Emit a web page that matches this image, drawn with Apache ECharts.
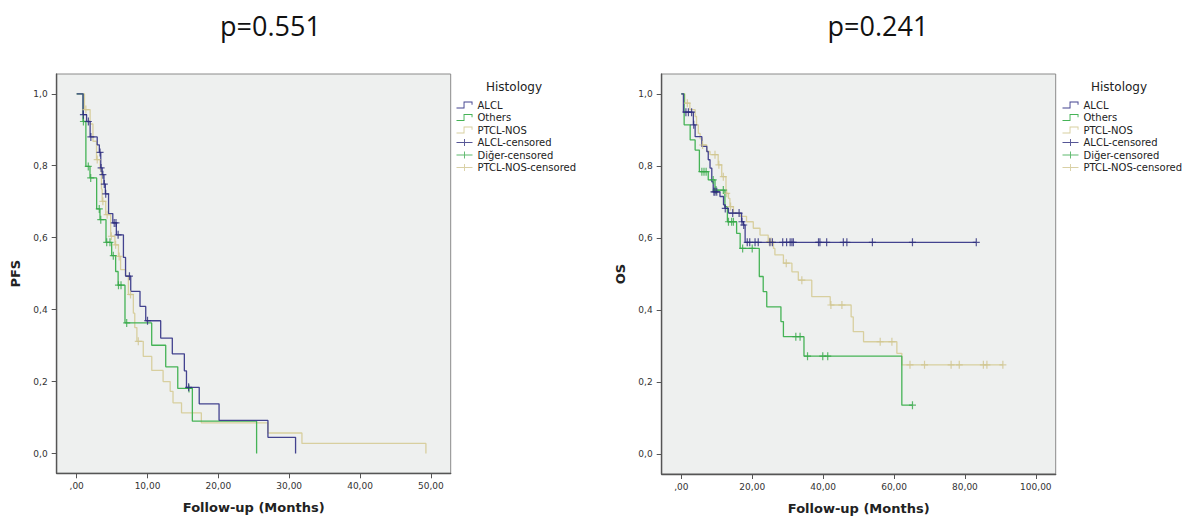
<!DOCTYPE html>
<html>
<head>
<meta charset="utf-8">
<script src="https://cdn.jsdelivr.net/npm/echarts@6/dist/echarts.min.js"></script>
<style>
html,body{margin:0;padding:0;background:#fff;}
#chart{width:1188px;height:520px;}
</style>
</head>
<body>
<div id="chart"></div>
<script>
// ---------- DATA ----------
const groupNames = ['ALCL', 'Others', 'PTCL-NOS'];
const censorNames = ['ALCL-censored', 'Diğer-censored', 'PTCL-NOS-censored'];
const titles = ['p=0.551', 'p=0.241'];
const yTicks = [0, 0.2, 0.4, 0.6, 0.8, 1.0];
const xTicksPFS = [0, 10, 20, 30, 40, 50];
const xTicksOS = [0, 20, 40, 60, 80, 100];

// PFS – ALCL
const pfsAlclT = [0.9, 1.4, 1.9, 2.9, 3.2, 3.4, 3.6, 3.85, 4.05, 4.5, 5.1, 5.6, 6.6, 6.9, 7.63, 8.94, 9.75, 11.86, 13.5, 15.2, 15.5, 17.3, 20.1, 27.0, 30.9];
const pfsAlclS = [0.942, 0.923, 0.88, 0.858, 0.837, 0.794, 0.775, 0.749, 0.722, 0.667, 0.641, 0.608, 0.545, 0.493, 0.451, 0.409, 0.369, 0.321, 0.277, 0.23, 0.184, 0.138, 0.092, 0.045, 0];
const pfsAlclC = [0.95, 1.65, 2.0, 3.3, 3.45, 3.7, 3.9, 4.1, 5.3, 5.55, 5.85, 7.45, 10.0, 15.8];
// PFS – Others
const pfsOthT = [0.9, 1.3, 1.88, 2.82, 3.29, 4.14, 4.94, 5.5, 5.85, 6.82, 10.59, 12.57, 14.27, 16.33, 25.4];
const pfsOthS = [0.923, 0.798, 0.766, 0.68, 0.65, 0.587, 0.55, 0.506, 0.468, 0.363, 0.301, 0.241, 0.181, 0.09, 0];
const pfsOthC = [0.95, 1.64, 1.98, 3.19, 3.4, 4.24, 4.7, 5.17, 5.9, 6.26, 7.06, 15.86];
// PFS – PTCL-NOS
const pfsPtclT = [1.1, 1.9, 2.3, 2.8, 3.3, 3.5, 3.6, 4.1, 4.8, 5.4, 5.9, 6.2, 6.9, 7.3, 8.0, 8.2, 8.5, 9.4, 10.6, 12.2, 13.2, 13.6, 14.8, 17.6, 27.0, 31.8, 49.3];
const pfsPtclS = [0.956, 0.916, 0.868, 0.817, 0.789, 0.735, 0.701, 0.664, 0.604, 0.58, 0.548, 0.511, 0.493, 0.442, 0.39, 0.35, 0.312, 0.27, 0.231, 0.2, 0.173, 0.141, 0.113, 0.085, 0.057, 0.028, 0];
const pfsPtclC = [1.3, 2.9, 3.7, 4.3, 4.9, 5.5, 6.0, 7.6, 8.7];

// OS – ALCL
const osAlclT = [0.6, 3.4, 3.9, 5.8, 7.2, 7.6, 8.1, 8.6, 9.0, 10.9, 11.9, 12.3, 13.3, 17.0, 17.5, 18.0];
const osAlclS = [0.949, 0.914, 0.881, 0.854, 0.84, 0.817, 0.794, 0.756, 0.728, 0.715, 0.692, 0.682, 0.669, 0.645, 0.636, 0.588];
const osAlclC = [1.3, 2.0, 2.9, 3.5, 9.2, 9.5, 10.0, 12.4, 14.5, 16.3, 17.1, 17.6, 18.6, 19.3, 20.8, 21.7, 25.0, 25.7, 28.6, 29.7, 30.7, 31.2, 31.6, 38.7, 39.1, 41.0, 45.7, 46.7, 53.9, 65.2, 83.2];
// OS – Others
const osOthT = [0.8, 2.5, 3.9, 5.1, 7.6, 9.5, 12.3, 13.0, 15.6, 16.6, 22.0, 23.1, 24.1, 28.1, 28.8, 34.6, 62.2];
const osOthS = [0.914, 0.872, 0.844, 0.784, 0.761, 0.733, 0.687, 0.645, 0.613, 0.571, 0.493, 0.451, 0.409, 0.368, 0.326, 0.272, 0.136];
const osOthC = [5.8, 6.4, 7.0, 9.0, 9.8, 11.85, 13.3, 14.2, 14.7, 17.3, 20.0, 32.3, 33.5, 35.6, 39.9, 41.3, 65.2];
// OS – PTCL-NOS
const osPtclT = [1.0, 2.4, 3.9, 4.3, 4.8, 5.3, 5.8, 7.2, 8.1, 10.4, 11.4, 12.6, 13.3, 13.7, 14.7, 16.6, 18.4, 20.3, 22.2, 24.5, 26.0, 26.4, 28.8, 31.2, 33.0, 36.8, 42.0, 47.9, 48.5, 51.4, 60.8, 62.2];
const osPtclS = [0.974, 0.956, 0.937, 0.914, 0.89, 0.875, 0.858, 0.84, 0.831, 0.803, 0.77, 0.724, 0.71, 0.687, 0.669, 0.66, 0.645, 0.627, 0.608, 0.59, 0.571, 0.553, 0.53, 0.506, 0.483, 0.437, 0.414, 0.381, 0.34, 0.312, 0.28, 0.248];
const osPtclC = [1.7, 6.0, 9.5, 10.6, 11.85, 12.8, 13.9, 24.8, 25.3, 29.6, 34.0, 42.2, 45.3, 56.1, 59.4, 64.5, 68.6, 76.1, 78.4, 85.2, 86.2, 90.7];

// ---------- STYLE ----------
const lineColors = ['#43438f', '#45b356', '#d8cf9f'];
const censColors = ['#2c2c7c', '#36a848', '#cfc48f'];
const FONT = '"DejaVu Sans", sans-serif';
const stepIcon = 'path://M0,5.5L7.5,5.5L7.5,0L17,0L17,3L16,3L16,1L8.5,1L8.5,6.5L0,6.5Z';
const plusIcon = 'path://M0,3L17,3L17,4L0,4ZM8,0L9,0L9,7L8,7Z';
const plusMark = 'path://M0,3.4L7,3.4L7,4.6L0,4.6ZM2.9,0L4.1,0L4.1,8L2.9,8Z';

function stepData(T, S, C) {
  const d = [[0, 1]];
  T.forEach((t, i) => d.push([t, S[i]]));
  const lastT = T[T.length - 1];
  const maxC = Math.max.apply(null, C);
  if (maxC > lastT) d.push([maxC, S[S.length - 1]]);
  return d;
}
function censorData(T, S, C) {
  return C.map(c => {
    let s = 1;
    T.forEach((t, i) => { if (t <= c) s = S[i]; });
    return [c, s];
  });
}
const fmtX = v => (v === 0 ? ',00' : v.toFixed(2).replace('.', ','));
const fmtY = v => v.toFixed(1).replace('.', ',');

const panels = [
  { T: [pfsAlclT, pfsOthT, pfsPtclT], S: [pfsAlclS, pfsOthS, pfsPtclS], C: [pfsAlclC, pfsOthC, pfsPtclC] },
  { T: [osAlclT, osOthT, osPtclT], S: [osAlclS, osOthS, osPtclS], C: [osAlclC, osOthC, osPtclC] }
];

const series = [];
panels.forEach((p, pi) => {
  [2, 1, 0].forEach(g => {
    series.push({
      name: groupNames[g], type: 'line', step: 'end', xAxisIndex: pi, yAxisIndex: pi,
      data: stepData(p.T[g], p.S[g], p.C[g]),
      symbol: 'none', showSymbol: false, animation: false, silent: true,
      lineStyle: { color: lineColors[g], width: 1.3 },
      itemStyle: { color: lineColors[g] }, z: 2 + (2 - g)
    });
  });
  [2, 1, 0].forEach(g => {
    series.push({
      name: censorNames[g], type: 'scatter', xAxisIndex: pi, yAxisIndex: pi,
      data: censorData(p.T[g], p.S[g], p.C[g]),
      symbol: plusMark, symbolSize: [7, 8], animation: false, silent: true,
      itemStyle: { color: censColors[g], borderWidth: 0 }, z: 6
    });
  });
});

const grids = [
  { left: 56.7, top: 74, width: 394, height: 399.3 },
  { left: 661.7, top: 74, width: 394, height: 400 }
];
const xRanges = [[-2.82, 52.8], [-5.53, 105.6]];
const xTicks = [xTicksPFS, xTicksOS];
const yNames = ['PFS', 'OS'];

const legendData = [
  { name: groupNames[0], icon: stepIcon }, { name: groupNames[1], icon: stepIcon }, { name: groupNames[2], icon: stepIcon },
  { name: censorNames[0], icon: plusIcon }, { name: censorNames[1], icon: plusIcon }, { name: censorNames[2], icon: plusIcon }
];
const legendLeft = [451.5, 1057.5];
const histX = [514, 1119];
const titleX = [270.5, 878];

const option = {
  backgroundColor: '#ffffff',
  animation: false,
  grid: grids.map(g => Object.assign({ show: true, backgroundColor: '#eef0ef', borderColor: '#8a8a8a', borderWidth: 1 }, g)),
  xAxis: [0, 1].map(i => ({
    type: 'value', gridIndex: i, min: xRanges[i][0], max: xRanges[i][1],
    name: 'Follow-up (Months)', nameLocation: 'middle', nameGap: 28,
    nameTextStyle: { fontFamily: FONT, fontSize: 13, fontWeight: 'bold', color: '#222' },
    axisLine: { show: true, onZero: false, lineStyle: { color: '#555', width: 1.4 } },
    axisTick: { show: true, length: 5, customValues: xTicks[i], lineStyle: { color: '#555' } },
    axisLabel: { customValues: xTicks[i], formatter: fmtX, fontFamily: FONT, fontSize: 9, color: '#333', margin: 8 },
    splitLine: { show: false }
  })),
  yAxis: [0, 1].map(i => ({
    type: 'value', gridIndex: i, min: -0.055, max: 1.055,
    name: yNames[i], nameLocation: 'middle', nameGap: 35,
    nameTextStyle: { fontFamily: FONT, fontSize: 13, fontWeight: 'bold', color: '#222' },
    axisLine: { show: true, onZero: false, lineStyle: { color: '#555', width: 1.4 } },
    axisTick: { show: true, length: 5, customValues: yTicks, lineStyle: { color: '#555' } },
    axisLabel: { customValues: yTicks, formatter: fmtY, fontFamily: FONT, fontSize: 9, color: '#333', margin: 9 },
    splitLine: { show: false }
  })),
  legend: [0, 1].map(i => ({
    orient: 'vertical', left: legendLeft[i], top: 94,
    data: legendData, itemWidth: 16, itemHeight: 7, itemGap: 0.5,
    symbolKeepAspect: false, selectedMode: false,
    itemStyle: { borderWidth: 0 },
    textStyle: { fontFamily: FONT, fontSize: 10, color: '#222', lineHeight: 12 }
  })),
  graphic: [
    ...[0, 1].map(i => ({
      type: 'text', x: titleX[i], y: 25, silent: true,
      style: { text: titles[i], fontFamily: '"Open Sans", sans-serif', fontSize: 27, fill: '#111',
               align: 'center', verticalAlign: 'middle', textAlign: 'center', textVerticalAlign: 'middle' }
    })),
    ...[0, 1].map(i => ({
      type: 'text', x: histX[i], y: 87, silent: true,
      style: { text: 'Histology', fontFamily: FONT, fontSize: 12, fill: '#222',
               align: 'center', verticalAlign: 'middle', textAlign: 'center', textVerticalAlign: 'middle' }
    }))
  ],
  series: series
};

const chart = echarts.init(document.getElementById('chart'), null, { renderer: 'svg' });
chart.setOption(option);
</script>
</body>
</html>
